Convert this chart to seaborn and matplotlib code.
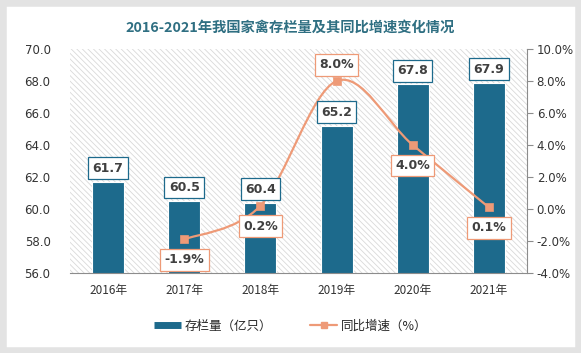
import numpy as np
import pandas as pd
import matplotlib
matplotlib.use("Agg")
import matplotlib.pyplot as plt
import seaborn as sns
from matplotlib.path import Path
from matplotlib.patches import PathPatch, Rectangle
from matplotlib.lines import Line2D

years = ["2016年", "2017年", "2018年", "2019年", "2020年", "2021年"]
stock = [61.7, 60.5, 60.4, 65.2, 67.8, 67.9]
growth_years = ["2017年", "2018年", "2019年", "2020年", "2021年"]
growth = [-1.9, 0.2, 8.0, 4.0, 0.1]
growth_labels = ["-1.9%", "0.2%", "8.0%", "4.0%", "0.1%"]
growth_label_side = ["below", "below", "above", "below", "below"]

BAR = "#1D6A8C"
LINE = "#EE9A77"
TXT = "#404040"

sns.set_theme(style="white")
plt.rcParams["font.family"] = ["Noto Sans CJK SC", "DejaVu Sans"]
plt.rcParams["hatch.linewidth"] = 0.6

fig = plt.figure(figsize=(5.81, 3.53), dpi=100)
fig.patch.set_facecolor("white")
fig.add_artist(Rectangle((0, 0), 1, 1, transform=fig.transFigure, fill=False,
                         ec="#e3e3e3", lw=9, zorder=0))

ax = fig.add_axes([70 / 581, 1 - 273 / 353, 457 / 581, 224 / 353])
ax.set_facecolor("white")
ax.add_patch(Rectangle((0, 0), 1, 1, transform=ax.transAxes, fc="white",
                       ec="#d9d9d9", hatch="\\\\\\\\\\\\", lw=0, zorder=0))

df = pd.DataFrame({"year": years, "stock": stock})
sns.barplot(data=df, x="year", y="stock", color=BAR, width=0.42, ax=ax,
            edgecolor="white", linewidth=0.8, saturation=1, zorder=2)
ax.set_ylim(56, 70)
ax.set_yticks(np.arange(56, 70.1, 2))
ax.set_yticklabels([f"{v:.1f}" for v in np.arange(56, 70.1, 2)], fontsize=8.5,
                   color="#333333", family="DejaVu Sans")
ax.set_xlim(-0.5, 5.5)
ax.set_xlabel("")
ax.set_ylabel("")
ax.tick_params(axis="x", labelsize=8.5, colors="#333333", length=0, pad=8)
ax.tick_params(axis="y", length=0, pad=14)
for s in ["top", "right", "left"]:
    ax.spines[s].set_visible(False)
ax.spines["bottom"].set_color("#8c8c8c")
ax.spines["bottom"].set_linewidth(0.8)

ax2 = ax.twinx()
ax2.set_ylim(-4, 10)
ax2.set_yticks(np.arange(-4, 10.1, 2))
ax2.set_yticklabels([f"{v:.1f}%" for v in np.arange(-4, 10.1, 2)], fontsize=8.5,
                    color="#333333", family="DejaVu Sans")
for s in ["top", "left", "bottom"]:
    ax2.spines[s].set_visible(False)
ax2.spines["right"].set_color("#8c8c8c")
ax2.spines["right"].set_linewidth(0.8)
ax2.tick_params(axis="y", direction="out", length=4, width=0.8, color="#8c8c8c",
                right=True, pad=3)
ax2.grid(False)
ax.grid(False)

gx = np.array([years.index(y) for y in growth_years], dtype=float)
gy = np.array(growth, dtype=float)
# smoothed line through the data points (Catmull-Rom -> cubic Bezier)
verts = [(gx[0], gy[0])]
codes = [Path.MOVETO]
t = 1 / 6
n = len(gx)
for k in range(n - 1):
    p0 = np.array([gx[max(k - 1, 0)], gy[max(k - 1, 0)]])
    p1 = np.array([gx[k], gy[k]])
    p2 = np.array([gx[k + 1], gy[k + 1]])
    p3 = np.array([gx[min(k + 2, n - 1)], gy[min(k + 2, n - 1)]])
    c1 = p1 + (p2 - p0) * t
    c2 = p2 - (p3 - p1) * t
    verts += [tuple(c1), tuple(c2), tuple(p2)]
    codes += [Path.CURVE4] * 3
ax2.add_patch(PathPatch(Path(verts, codes), fill=False, ec=LINE, lw=1.6, zorder=3))
gdf = pd.DataFrame({"x": gx, "y": gy})
sns.scatterplot(data=gdf, x="x", y="y", ax=ax2, marker="s", s=36, color=LINE,
                edgecolor=LINE, zorder=4, legend=False)
ax2.set_xlabel("")
ax2.set_ylabel("")
ax2.set_xlim(-0.5, 5.5)

# bar value labels (drawn on the top axes so they sit above the line)
for i, v in enumerate(stock):
    ax2.annotate(f"{v:.1f}", (i, v), xycoords=ax.transData, xytext=(0, 5),
                 textcoords="offset points", ha="center", va="bottom", fontsize=9,
                 fontweight="bold", color=TXT, family="DejaVu Sans", zorder=6,
                 bbox=dict(boxstyle="square,pad=0.35", fc="white", ec=BAR, lw=0.9))

for xi, yi, lab, side in zip(gx, gy, growth_labels, growth_label_side):
    off = 7 if side == "above" else -10
    ax2.annotate(lab, (xi, yi), xytext=(0, off), textcoords="offset points",
                 ha="center", va="bottom" if side == "above" else "top",
                 fontsize=9, fontweight="bold", color=TXT, family="DejaVu Sans",
                 zorder=6,
                 bbox=dict(boxstyle="square,pad=0.35", fc="white", ec=LINE, lw=0.9))

fig.text(0.5, 1 - 28 / 353, "2016-2021年我国家禽存栏量及其同比增速变化情况",
         ha="center", va="center", fontsize=10.3, fontweight="bold", color="#2F6F82")

handles = [Line2D([0], [0], color=BAR, lw=5, solid_capstyle="butt"),
           Line2D([0], [0], color=LINE, lw=1.6, marker="s", markersize=5)]
fig.legend(handles, ["存栏量（亿只）", "同比增速（%）"], loc="center",
           bbox_to_anchor=(0.5, 1 - 326 / 353), ncol=2, frameon=False,
           fontsize=9, handlelength=2.2, columnspacing=3, handletextpad=0.3)

fig.savefig("out.png", dpi=100)
